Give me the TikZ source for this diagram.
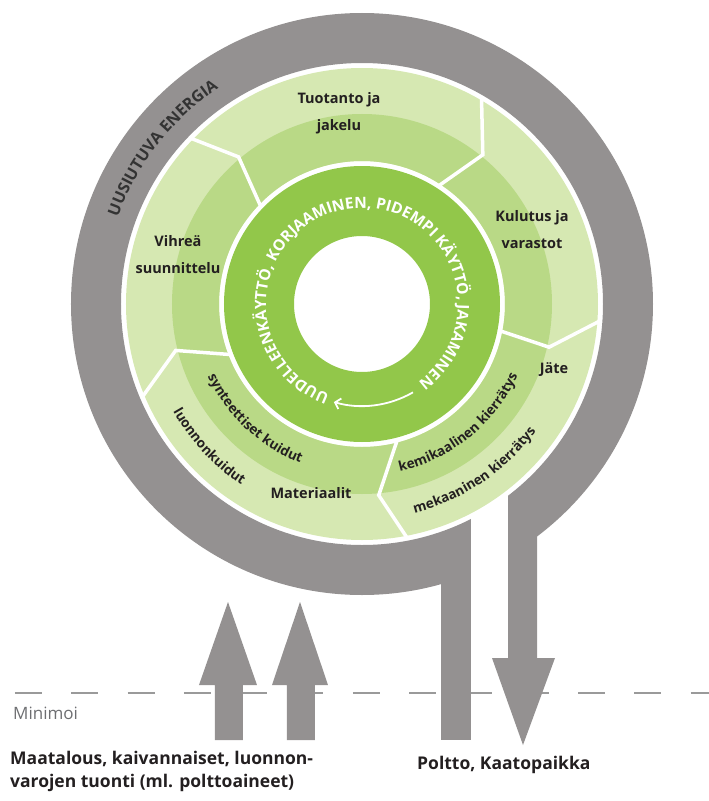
\documentclass[tikz,border=0pt]{standalone}
\usepackage{fontspec}
\setmainfont{Open Sans}
\usetikzlibrary{decorations.text,arrows.meta}
\definecolor{ringgrey}{HTML}{949191}
\definecolor{lightg}{HTML}{D6E8B2}
\definecolor{midg}{HTML}{B9D986}
\definecolor{innerg}{HTML}{92C74A}
\definecolor{txt}{HTML}{231F20}
\definecolor{dashg}{HTML}{9A9A9A}
\definecolor{minig}{HTML}{6D6E71}
\definecolor{ringtxt}{HTML}{333333}
\begin{document}
\begin{tikzpicture}[x=1pt,y=1pt,
  seglabel/.style={font=\bfseries\fontsize{14.5}{27}\selectfont, text=txt, align=center, inner sep=0pt},
  bottomlabel/.style={font=\bfseries\fontsize{17.5}{23}\selectfont, text=txt, align=left, inner sep=0pt},
  chevron/.style={draw=white, line width=3.5pt, line join=miter},
  greyshape/.style={fill=ringgrey}]
\useasboundingbox (-362,-497) rectangle (347,304);

% dashed "Minimoi" line
\draw[dashg, line width=2pt, dash pattern=on 27pt off 29.3pt] (-347,-389) -- (347,-389);

% grey ring, tail and down arrow
\fill[ringgrey, even odd rule] (0,0) circle[radius=291] (0,0) circle[radius=241];
\path[greyshape] (79,-240) rectangle (109,-436);
\path[greyshape] (146,-200) -- (175,-200) -- (175,-354) -- (193,-354) -- (161,-441) -- (130,-354) -- (146,-354) -- cycle;
\fill[white] (109,-170) rectangle (146,-300);

% up arrows
\path[greyshape] (-147,-436) -- (-147,-381) -- (-163,-381) -- (-134,-298) -- (-105,-381) -- (-119,-381) -- (-119,-436) -- cycle;
\path[greyshape] (-75,-436) -- (-75,-381) -- (-90,-381) -- (-62,-298) -- (-34,-381) -- (-47,-381) -- (-47,-436) -- cycle;

% green rings
\fill[lightg, even odd rule] (0,0) circle[radius=236] (0,0) circle[radius=143];
\fill[midg, even odd rule] (0,0) circle[radius=190] (0,0) circle[radius=143];
\fill[innerg, even odd rule] (0,0) circle[radius=138] (0,0) circle[radius=68];

% chevron boundaries
\draw[chevron] (136:239) -- (130:192) -- (136:141);
\draw[chevron] (60:239) -- (51:192) -- (57:141);
\draw[chevron] (-4:239) -- (-13:192) -- (-11:141);
\draw[chevron] (-79:239) -- (-85:192) -- (-75.6:141);
\draw[chevron] (203:239) -- (194:192) -- (201:141);

% inner ring text and arrow
\path[decorate, decoration={text along path, text align=center,
  text={|\color{white}\bfseries\fontsize{15.5}{15.5}\selectfont|UUDELLEENKÄYTTÖ, KORJAAMINEN, PIDEMPI KÄYTTÖ, JAKAMINEN}}]
  (263:96) arc[start angle=263, end angle=-67, radius=96];
\draw[white, line width=1.8pt, -{Straight Barb[length=5pt,width=11pt]}] (-60:102) arc[start angle=-60, end angle=-106, radius=102];

% grey ring text
\path[decorate, decoration={text along path, text align=center,
  text={|\color{ringtxt}\bfseries\fontsize{16}{16}\selectfont|UUSIUTUVA ENERGIA}}]
  (190:259) arc[start angle=190, end angle=94, radius=259];

% segment labels
\node[seglabel] (tuotanto) at (-23,190.5) {Tuotanto ja\\jakelu};
\node[seglabel] (kulutus) at (170,74) {Kulutus ja\\varastot};
\node[seglabel] (vihrea) at (-184,49) {Vihreä\\suunnittelu};
\node[seglabel] (jate) at (192,-66) {Jäte};
\node[seglabel] (materiaalit) at (-51,-189) {Materiaalit};

% curved sub labels
\path[decorate, decoration={text along path, text align=center,
  text={|\color{txt}\bfseries\fontsize{13.5}{13.5}\selectfont|synteettiset kuidut}}]
  (192:170.5) arc[start angle=192, end angle=262, radius=170.5];
\path[decorate, decoration={text along path, text align=center,
  text={|\color{txt}\bfseries\fontsize{13.5}{13.5}\selectfont|luonnonkuidut}}]
  (193:217.5) arc[start angle=193, end angle=253, radius=217.5];
\path[decorate, decoration={text along path, text align=center,
  text={|\color{txt}\bfseries\fontsize{13.5}{13.5}\selectfont|kemikaalinen kierrätys}}]
  (-96:171.5) arc[start angle=-96, end angle=-6, radius=171.5];
\path[decorate, decoration={text along path, text align=center,
  text={|\color{txt}\bfseries\fontsize{13.5}{13.5}\selectfont|mekaaninen kierrätys}}]
  (-96:215.5) arc[start angle=-96, end angle=-16, radius=215.5];

% bottom labels
\node[font=\fontsize{17}{17}\selectfont, text=minig, anchor=west, inner sep=0pt] (minimoi) at (-349,-409) {Minimoi};
\node[bottomlabel, anchor=west] (maatalous) at (-352,-467.5) {Maatalous, kaivannaiset, luonnon-\\varojen tuonti (ml. polttoaineet)};
\node[bottomlabel, anchor=west] (poltto) at (55,-461) {Poltto, Kaatopaikka};
\end{tikzpicture}
\end{document}
